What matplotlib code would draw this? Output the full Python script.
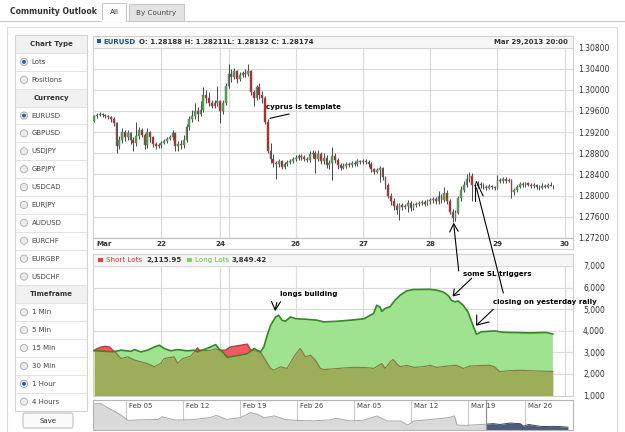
import numpy as np
import matplotlib
matplotlib.use("Agg")
import matplotlib.pyplot as plt
from matplotlib.patches import Rectangle, Circle, FancyBboxPatch
from matplotlib.ticker import FuncFormatter

W, H = 625, 432
plt.rcParams['font.family'] = ['DejaVu Sans']

# ---------------- data ----------------
symbol = "EURUSD"
first_open = 1.2942
closes = [
    # Mar 21
    1.2950, 1.2953, 1.2955, 1.2952, 1.2950, 1.2948, 1.2945, 1.2938, 1.2893, 1.2905,
    1.2920, 1.2910, 1.2918, 1.2905, 1.2900, 1.2912, 1.2925, 1.2915, 1.2895, 1.2920,
    1.2910, 1.2897, 1.2893, 1.2895,
    # Mar 22
    1.2900, 1.2903, 1.2908, 1.2910, 1.2918, 1.2893, 1.2897, 1.2895, 1.2905, 1.2930,
    1.2945, 1.2950, 1.2960, 1.2955, 1.2962, 1.2990, 1.2985, 1.2975, 1.2970, 1.2975,
    1.2978,
    # Mar 24
    1.2960, 1.2975, 1.3008,
    # Mar 25
    1.3030, 1.3025, 1.3035, 1.3020, 1.3028, 1.3032, 1.3030, 1.3035, 1.2995, 1.2985,
    1.3005, 1.2990, 1.2985, 1.2940, 1.2885, 1.2870, 1.2862, 1.2860, 1.2865, 1.2855,
    1.2860, 1.2863, 1.2866, 1.2870,
    # Mar 26
    1.2872, 1.2875, 1.2873, 1.2870, 1.2868, 1.2878, 1.2880, 1.2870, 1.2878, 1.2865,
    1.2872, 1.2858, 1.2862, 1.2875, 1.2868, 1.2858, 1.2853, 1.2857, 1.2860, 1.2858,
    1.2862, 1.2860, 1.2865, 1.2863,
    # Mar 27
    1.2866, 1.2864, 1.2860, 1.2850, 1.2845, 1.2848, 1.2852, 1.2835, 1.2820, 1.2800,
    1.2790, 1.2780, 1.2773, 1.2782, 1.2778, 1.2780, 1.2787, 1.2776, 1.2782, 1.2784,
    1.2786, 1.2788, 1.2785, 1.2789,
    # Mar 28
    1.2791, 1.2794, 1.2790, 1.2800, 1.2792, 1.2805, 1.2790, 1.2770, 1.2758, 1.2768,
    1.2795, 1.2810, 1.2820, 1.2832, 1.2838, 1.2820, 1.2818, 1.2822, 1.2820, 1.2817,
    1.2815, 1.2818, 1.2816, 1.2815,
    # Mar 29
    1.2830, 1.2827, 1.2832, 1.2828, 1.2830, 1.2806, 1.2810, 1.2817, 1.2822, 1.2820,
    1.2823, 1.2821, 1.2818, 1.2820, 1.2817, 1.2815, 1.2819, 1.2817, 1.2820, 1.28188,
    1.28174,
]
highs = [
    1.2953, 1.2957, 1.2958, 1.2957, 1.2955, 1.2953, 1.2951, 1.2949, 1.2940, 1.2912,
    1.2928, 1.2924, 1.2925, 1.2921, 1.2910, 1.2940, 1.2930, 1.2928, 1.2918, 1.2928,
    1.2923, 1.2913, 1.2901, 1.2899,
    1.2904, 1.2907, 1.2911, 1.2914, 1.2925, 1.2920, 1.2903, 1.2906, 1.2915, 1.2935,
    1.2950, 1.2962, 1.2975, 1.2968, 1.2978, 1.3005, 1.3000, 1.2995, 1.2980, 1.2980,
    1.3007,
    1.2980, 1.2980, 1.3012,
    1.3049, 1.3040, 1.3042, 1.3038, 1.3033, 1.3036, 1.3040, 1.3049, 1.3038, 1.3000,
    1.3010, 1.3012, 1.2998, 1.2988, 1.2945, 1.2900, 1.2878, 1.2866, 1.2870, 1.2868,
    1.2864, 1.2867, 1.2870, 1.2874,
    1.2876, 1.2879, 1.2878, 1.2876, 1.2874, 1.2885, 1.2887, 1.2884, 1.2886, 1.2882,
    1.2880, 1.2876, 1.2868, 1.2892, 1.2880, 1.2872, 1.2862, 1.2862, 1.2864, 1.2863,
    1.2866, 1.2865, 1.2869, 1.2868,
    1.2870, 1.2869, 1.2867, 1.2863, 1.2853, 1.2852, 1.2856, 1.2855, 1.2838, 1.2823,
    1.2805, 1.2795, 1.2786, 1.2787, 1.2786, 1.2785, 1.2792, 1.2790, 1.2786, 1.2788,
    1.2790, 1.2792, 1.2791, 1.2793,
    1.2795, 1.2798, 1.2797, 1.2808, 1.2804, 1.2817, 1.2810, 1.2793, 1.2775, 1.2772,
    1.2800, 1.2818, 1.2828, 1.2840, 1.2845, 1.2843, 1.2826, 1.2827, 1.2825, 1.2823,
    1.2820, 1.2822, 1.2821, 1.2819,
    1.2839, 1.2834, 1.2836, 1.2835, 1.2834, 1.2832, 1.2815, 1.2821, 1.2826, 1.2825,
    1.2826, 1.2825, 1.2823, 1.2823, 1.2822, 1.2820, 1.2823, 1.2822, 1.2824, 1.2825,
    1.28211,
]
lows = [
    1.2940, 1.2947, 1.2950, 1.2948, 1.2946, 1.2944, 1.2940, 1.2932, 1.2880, 1.2888,
    1.2900, 1.2904, 1.2906, 1.2898, 1.2885, 1.2893, 1.2908, 1.2910, 1.2888, 1.2890,
    1.2902, 1.2892, 1.2889, 1.2890,
    1.2891, 1.2897, 1.2900, 1.2905, 1.2906, 1.2885, 1.2884, 1.2888, 1.2890, 1.2902,
    1.2925, 1.2940, 1.2945, 1.2942, 1.2950, 1.2958, 1.2975, 1.2970, 1.2965, 1.2966,
    1.2970,
    1.2938, 1.2955, 1.2972,
    1.3003, 1.3015, 1.3020, 1.3012, 1.3016, 1.3024, 1.3025, 1.3026, 1.2990, 1.2970,
    1.2980, 1.2982, 1.2975, 1.2935, 1.2880, 1.2862, 1.2855, 1.2832, 1.2855, 1.2850,
    1.2850, 1.2856, 1.2859, 1.2862,
    1.2866, 1.2868, 1.2868, 1.2865, 1.2863, 1.2864, 1.2872, 1.2842, 1.2865, 1.2860,
    1.2860, 1.2853, 1.2850, 1.2829, 1.2862, 1.2850, 1.2848, 1.2850, 1.2853, 1.2854,
    1.2855, 1.2856, 1.2857, 1.2859,
    1.2860, 1.2860, 1.2855, 1.2845, 1.2840, 1.2842, 1.2825, 1.2830, 1.2812, 1.2795,
    1.2783, 1.2772, 1.2766, 1.2754, 1.2772, 1.2774, 1.2770, 1.2771, 1.2773, 1.2778,
    1.2780, 1.2782, 1.2780, 1.2782,
    1.2785, 1.2787, 1.2785, 1.2785, 1.2786, 1.2788, 1.2785, 1.2765, 1.2750, 1.2752,
    1.2765, 1.2790, 1.2806, 1.2816, 1.2826, 1.2790, 1.2812, 1.2814, 1.2815, 1.2812,
    1.2811, 1.2812, 1.2812, 1.2811,
    1.2812, 1.2823, 1.2824, 1.2824, 1.2825, 1.2796, 1.2802, 1.2806, 1.2814, 1.2816,
    1.2817, 1.2818, 1.2814, 1.2815, 1.2813, 1.2811, 1.2812, 1.2814, 1.2815, 1.2818,
    1.28132,
]
price_ticks = [1.272, 1.276, 1.280, 1.284, 1.288, 1.292, 1.296, 1.300, 1.304, 1.308]
day_tick_pos = [3.4, 24, 45, 72, 96, 120, 144, 168]
day_tick_labels = ["Mar", "22", "24", "26", "27", "28", "29", "30"]
day_grid_pos = [24, 45, 48, 72, 96, 120, 144, 168]

long_x = [0.0, 3.7, 6.6, 9.6, 13.2, 14.4, 16.7, 19.1, 21.5, 23.3, 25.0, 27.4, 29.8, 33.3,
          35.7, 36.9, 39.3, 41.6, 43.4, 44.6, 46.4, 47.6, 49.9, 52.3, 54.7, 55.9, 57.1,
          58.2, 59.4, 60.6, 61.8, 63.0, 64.8, 65.9, 67.1, 68.3, 70.1, 71.9, 76.0, 79.6,
          82.0, 86.7, 91.4, 96.2, 99.8, 100.9, 102.1, 102.7, 103.9, 105.7, 107.4, 109.2,
          111.6, 114.0, 119.9, 122.3, 124.6, 126.4, 127.6, 128.8, 130.0, 131.8, 133.5,
          135.3, 136.5, 138.3, 141.2, 143.0, 146.0, 149.5, 155.5, 161.4, 163.8]
long_v = [3070, 3050, 3020, 3100, 3050, 3130, 3020, 3100, 3250, 3330, 3180, 3070, 3130, 3070,
          3100, 3020, 3130, 3250, 3360, 3160, 2940, 2760, 2820, 2870, 2940, 3050, 3180,
          3100, 3020, 3250, 3790, 4250, 4640, 4720, 4490, 4440, 4640, 4560, 4530, 4490,
          4410, 4440, 4490, 4550, 4800, 5180, 5100, 4900, 5030, 5120, 5410, 5640,
          5850, 5910, 5920, 5880, 5800, 5640, 5410, 5340, 5380, 5180, 4870,
          4250, 3840, 3950, 3980, 3990, 3930, 3920, 3900, 3920, 3850]
short_x = [0.0, 1.9, 3.7, 5.5, 6.6, 7.8, 9.6, 12.0, 14.4, 16.7, 19.1, 21.5, 23.8, 25.0, 28.6,
           29.8, 31.6, 34.5, 36.3, 36.9, 37.5, 38.7, 41.0, 43.4, 45.2, 47.0, 48.2, 48.8,
           52.3, 54.7, 55.9, 57.6, 59.4, 61.2, 63.0, 64.2, 66.5, 68.9, 71.3, 73.6, 75.4,
           77.2, 79.0, 80.8, 82.0, 86.7, 91.4, 96.2, 99.8, 102.7, 103.9, 105.7, 106.8,
           108.0, 109.2, 111.6, 114.0, 117.5, 119.9, 122.3, 125.8, 129.4, 131.8, 134.1,
           137.7, 141.2, 143.0, 144.8, 147.2, 152.0, 157.9, 163.8]
short_v = [3100, 3220, 3280, 3250, 3100, 2980, 2710, 2790, 2640, 2560, 2480, 2330, 2480, 2710,
           2790, 2480, 2710, 2820, 3100, 3210, 3100, 3100, 3070, 3160, 3100, 3100, 3220, 3250,
           3330, 3380, 3100, 3070, 3020, 2640, 2250, 2170, 2330, 2250, 2790, 3180, 2790,
           2870, 2640, 2250, 2200, 2250, 2300, 2300, 2250, 2480, 2250, 2560, 2670,
           2480, 2330, 2400, 2300, 2330, 2400, 2300, 2360, 2400, 2250, 2360,
           2390, 2400, 2330, 2100, 2140, 2170, 2130, 2116]
lots_ticks = [1000, 2000, 3000, 4000, 5000, 6000, 7000]
short_last = 2115.95
long_last = 3849.42

nav_x = [-3.98, -3.14, -2.30, -1.46, -0.42, 0.21, 1.89, 3.99, 4.41, 6.08, 8.18, 10.28, 11.12,
         12.37, 14.05, 15.31, 16.14, 16.99, 18.24, 19.5, 20.76, 22.85, 24.95, 25.79, 27.47,
         29.14, 30.82, 32.08, 33.76, 34.59, 35.43, 37.53, 39.63, 40.38, 40.68, 41.72, 43.82,
         45.08, 45.92, 47.17, 48.43, 48.85, 49.47, 50.95, 52.63, 54.31]
nav_v = [0.86, 0.89, 0.75, 0.63, 0.46, 0.31, 0.33, 0.34, 0.43, 0.32, 0.33, 0.40, 0.48,
         0.34, 0.40, 0.57, 0.52, 0.40, 0.46, 0.34, 0.31, 0.29, 0.32, 0.38, 0.29,
         0.31, 0.46, 0.29, 0.29, 0.15, 0.29, 0.34, 0.40, 0.46, 0.15, 0.14, 0.17,
         0.20, 0.17, 0.22, 0.20, 0.11, 0.17, 0.10, 0.11, 0.08]
nav_week_pos = [0, 7, 14, 21, 28, 35, 42, 49]
nav_week_labels = ["Feb 05", "Feb 12", "Feb 19", "Feb 26", "Mar 05", "Mar 12", "Mar 19", "Mar 26"]
nav_sel_start = 44.3

panel_rows = ["Chart Type", "Lots", "Positions", "Currency", "EURUSD", "GBPUSD", "USDJPY",
              "GBPJPY", "USDCAD", "EURJPY", "AUDUSD", "EURCHF", "EURGBP", "USDCHF",
              "Timeframe", "1 Min", "5 Min", "15 Min", "30 Min", "1 Hour", "4 Hours"]
header_rows = [0, 3, 14]
selected_rows = [1, 4, 19]

# ---------------- figure ----------------
fig = plt.figure(figsize=(W / 100, H / 100), dpi=100)
fig.patch.set_facecolor('white')


def rect(x0, y0, x1, y1):
    return [x0 / W, 1 - y1 / H, (x1 - x0) / W, (y1 - y0) / H]


bg = fig.add_axes([0, 0, 1, 1], zorder=0)
bg.set_xlim(0, W)
bg.set_ylim(H, 0)
bg.axis('off')


def box(ax, x0, y0, x1, y1, fc='none', ec='#d6d6d6', lw=0.8, z=1):
    ax.add_patch(Rectangle((x0, y0), x1 - x0, y1 - y0, facecolor=fc, edgecolor=ec,
                           linewidth=lw, zorder=z))


TXT = '#333333'
# tabs
bg.plot([0, W], [20.5, 20.5], color='#c8c8c8', lw=0.8, zorder=1)
box(bg, 102, 3, 126, 21, fc='white', ec='#c8c8c8', z=2)
bg.plot([102.6, 125.4], [20.6, 20.6], color='white', lw=1.4, zorder=3)
box(bg, 129, 4, 184, 20.5, fc='#e3e3e3', ec='#c8c8c8', z=2)
bg.text(10, 12, "Community Outlook", fontsize=5.6, fontweight='bold', color=TXT,
        va='center', ha='left', zorder=4)
bg.text(114, 12.5, "All", fontsize=5.2, color=TXT, va='center', ha='center', zorder=4)
bg.text(156.5, 12.5, "By Country", fontsize=5.2, color='#444444', va='center', ha='center', zorder=4)

# content frame
box(bg, 7, 27, 617, 440, ec='#dcdcdc')

# left panel
pitch = 17.885
for i, label in enumerate(panel_rows):
    cy = 44 + pitch * i
    top = cy - pitch / 2
    if i in header_rows:
        box(bg, 15, top, 87, top + pitch, fc='#f1f1f1', ec='none', z=1)
        bg.text(51, cy, label, fontsize=5.0, fontweight='bold', color=TXT,
                ha='center', va='center', zorder=4)
    else:
        bg.add_patch(Circle((24, cy), 3.6, facecolor='#ececec', edgecolor='#a9a9a9',
                            lw=0.6, zorder=3))
        if i in selected_rows:
            bg.add_patch(Circle((24, cy), 2.0, facecolor='#2d62b8', edgecolor='none', zorder=4))
        bg.text(31.5, cy, label, fontsize=5.0, color='#444444', ha='left', va='center', zorder=4)
    if i > 0:
        bg.plot([15, 87], [top, top], color='#e2e2e2', lw=0.7, zorder=2)
box(bg, 15, 44 - pitch / 2, 87, 44 + pitch * 20.5, ec='#d3d3d3', z=3)
bg.add_patch(FancyBboxPatch((23, 413), 50, 15, boxstyle='round,pad=0,rounding_size=2',
                            facecolor='#fafafa', edgecolor='#b8b8b8', lw=0.7, zorder=3))
bg.text(48, 420.8, "Save", fontsize=5.0, color=TXT, ha='center', va='center', zorder=4)

# chart panels frames
box(bg, 93, 36, 573, 249, ec='#cfd3cf')
box(bg, 93, 36, 573, 48, fc='#f6f6f6', ec='#cfd3cf')
box(bg, 93, 254, 573, 396, ec='#cfd3cf')
box(bg, 93, 254, 573, 266, fc='#f6f6f6', ec='#cfd3cf')

# price header
bg.add_patch(Rectangle((97, 38.8), 4.2, 4.2, facecolor='#2457a8', edgecolor='none', zorder=3))
bg.text(103, 41.8, symbol, fontsize=5.0, fontweight='bold', color='#1f4e9c',
        ha='left', va='center', zorder=4)
bg.text(139, 41.8, "O: %.5f H: %.5fL: %.5f C: %.5f" % (closes[-2], highs[-1], lows[-1], closes[-1]),
        fontsize=5.0, fontweight='bold', color=TXT, ha='left', va='center', zorder=4)
bg.text(568, 41.8, "Mar 29,2013 20:00", fontsize=5.0, fontweight='bold', color=TXT,
        ha='right', va='center', zorder=4)

# lots header / legend
bg.add_patch(Rectangle((98, 257.5), 4.8, 4.8, facecolor='#f03c3c', edgecolor='none', zorder=3))
bg.text(106, 260.3, "Short Lots", fontsize=5.1, color='#ec2a2a', ha='left', va='center', zorder=4)
bg.text(146, 260.3, "{:,.2f}".format(short_last), fontsize=5.1, fontweight='bold', color=TXT,
        ha='left', va='center', zorder=4)
bg.add_patch(Rectangle((187, 257.5), 4.8, 4.8, facecolor='#7bd764', edgecolor='none', zorder=3))
bg.text(195, 260.3, "Long Lots", fontsize=5.1, color='#5cc23f', ha='left', va='center', zorder=4)
bg.text(232, 260.3, "{:,.2f}".format(long_last), fontsize=5.1, fontweight='bold', color=TXT,
        ha='left', va='center', zorder=4)

GRID = '#d9dcd9'
XL = (-0.4, 171.0)

# ---------------- price axis ----------------
ax = fig.add_axes(rect(93, 47.5, 573, 238), zorder=2)
o = np.array([first_open] + closes[:-1])
c = np.array(closes)
hi = np.array(highs)
lo = np.array(lows)
xi = np.arange(len(c))
cols = np.where(c >= o, '#3fb23f', '#c4191c')
for yv in price_ticks:
    ax.axhline(yv, color=GRID, lw=0.9, zorder=1)
for xv in day_grid_pos:
    ax.axvline(xv, color=GRID, lw=0.9, zorder=1)
ax.vlines(xi, lo, hi, color='#2b2b2b', lw=0.6, zorder=3)
ax.bar(xi, np.maximum(np.abs(c - o), 0.00004), bottom=np.minimum(o, c), width=0.62,
       color=cols, edgecolor='#707070', linewidth=0.35, zorder=4)
ax.set_xlim(*XL)
ax.set_ylim(1.272, 1.308)
ax.yaxis.tick_right()
ax.set_yticks(price_ticks)
ax.yaxis.set_major_formatter(FuncFormatter(lambda v, p: "%.5f" % v))
ax.tick_params(axis='y', length=0, pad=3.6, labelsize=5.5, labelcolor=TXT)
ax.set_xticks(day_tick_pos)
ax.set_xticklabels(day_tick_labels, fontweight='bold')
ax.tick_params(axis='x', length=0, pad=2.0, labelsize=5.1, labelcolor=TXT)
for s in ['top', 'left', 'right']:
    ax.spines[s].set_visible(False)
ax.spines['bottom'].set_color('#bfc4bf')
ax.spines['bottom'].set_linewidth(0.9)
ax.patch.set_alpha(0)

# ---------------- lots axis ----------------
ax2 = fig.add_axes(rect(93, 266, 573, 395.5), zorder=2)
for yv in lots_ticks:
    ax2.axhline(yv, color=GRID, lw=0.9, zorder=1)
for xv in day_grid_pos:
    ax2.axvline(xv, color=GRID, lw=0.9, zorder=1)
xs = np.linspace(0, 163.8, 3000)
L = np.interp(xs, long_x, long_v)
S = np.interp(xs, short_x, short_v)
ax2.fill_between(xs, 1000, np.minimum(L, S), color='#9dae5b', lw=0, zorder=2)
ax2.fill_between(xs, S, L, where=L >= S, interpolate=True, color='#9fe28f', lw=0, zorder=2)
ax2.fill_between(xs, L, S, where=S > L, interpolate=True, color='#ee5b61', lw=0, zorder=2)
ax2.plot(xs, np.where(S <= L + 1, S, np.nan), color='#8a7c3c', lw=0.9, zorder=3)
ax2.plot(xs, np.where(S > L, S, np.nan), color='#c73535', lw=1.0, zorder=4)
ax2.plot(long_x, long_v, color='#2f8c1f', lw=1.2, zorder=5)
ax2.set_xlim(*XL)
ax2.set_ylim(1000, 7000)
ax2.yaxis.tick_right()
ax2.set_yticks(lots_ticks)
ax2.yaxis.set_major_formatter(FuncFormatter(lambda v, p: "{:,.0f}".format(v)))
ax2.tick_params(axis='y', length=0, pad=7.2, labelsize=5.5, labelcolor=TXT)
ax2.set_xticks([])
for s in ax2.spines.values():
    s.set_visible(False)
ax2.patch.set_alpha(0)

# ---------------- navigator ----------------
ax3 = fig.add_axes(rect(93, 400, 573, 429.5), zorder=2)
nx = np.linspace(nav_x[0], nav_x[-1], 2000)
nv = np.interp(nx, nav_x, nav_v)
m1 = nx <= nav_sel_start
ax3.fill_between(nx[m1], 0, nv[m1], color='#d9d9d9', lw=0, zorder=2)
ax3.plot(nx[m1], nv[m1], color='#a8a8a8', lw=0.7, zorder=3)
ax3.fill_between(nx[~m1], 0, nv[~m1], color='#4d5a7b', lw=0, zorder=2)
ax3.plot(nx[~m1], nv[~m1], color='#3a4560', lw=0.7, zorder=3)
for d, lab in zip(nav_week_pos, nav_week_labels):
    ax3.axvline(d, color='#c9c9c9', lw=0.8, zorder=1)
    ax3.text(d + 0.45, 0.90, lab, fontsize=5.0, color='#444444', ha='left', va='top', zorder=4)
ax3.axvline(nav_sel_start, color='#909090', lw=0.9, zorder=4)
ax3.set_xlim(-4.03, 54.93)
ax3.set_ylim(0, 1)
ax3.set_xticks([])
ax3.set_yticks([])
for s in ax3.spines.values():
    s.set_color('#b4b4b4')
    s.set_linewidth(0.8)

# ---------------- annotations ----------------
fg = fig.add_axes([0, 0, 1, 1], zorder=10)
fg.set_xlim(0, W)
fg.set_ylim(H, 0)
fg.axis('off')
fg.patch.set_alpha(0)
AK = dict(color='black', lw=0.8, solid_capstyle='round')
fg.text(266, 106.5, "cyprus is template", fontsize=5.1, fontweight='bold', color='black',
        ha='left', va='center')
fg.plot([270, 289], [118.3, 114], **AK)
fg.text(280, 294.3, "longs building", fontsize=5.1, fontweight='bold', color='black',
        ha='left', va='center')
fg.plot([271.5, 275.2, 280.5], [301.5, 310, 301.8], **AK)
fg.plot([275.2, 276.8], [310, 302.5], **AK)
fg.text(463, 274.3, "some SL triggers", fontsize=5.1, fontweight='bold', color='black',
        ha='left', va='center')
fg.plot([471.7, 453.3], [278.3, 295.7], **AK)
fg.plot([454.2, 453.3, 459.5], [289.0, 295.7, 294.3], **AK)
fg.text(493, 302.3, "closing on yesterday rally", fontsize=5.1, fontweight='bold',
        color='black', ha='left', va='center')
fg.plot([493.3, 476.7], [309.3, 325], **AK)
fg.plot([476.7, 476.7, 489], [315, 325, 322], **AK)
fg.plot([453.7, 458.7], [224, 271], **AK)
fg.plot([449.7, 453.7, 458.2], [232, 223.7, 231.3], **AK)
fg.plot([476.5, 503.3], [188, 293], **AK)
fg.plot([474.8, 474.8], [184.5, 201], **AK)
fg.plot([476.3, 483.2], [181.5, 196], **AK)

fig.savefig("out.png", dpi=100, facecolor='white')
